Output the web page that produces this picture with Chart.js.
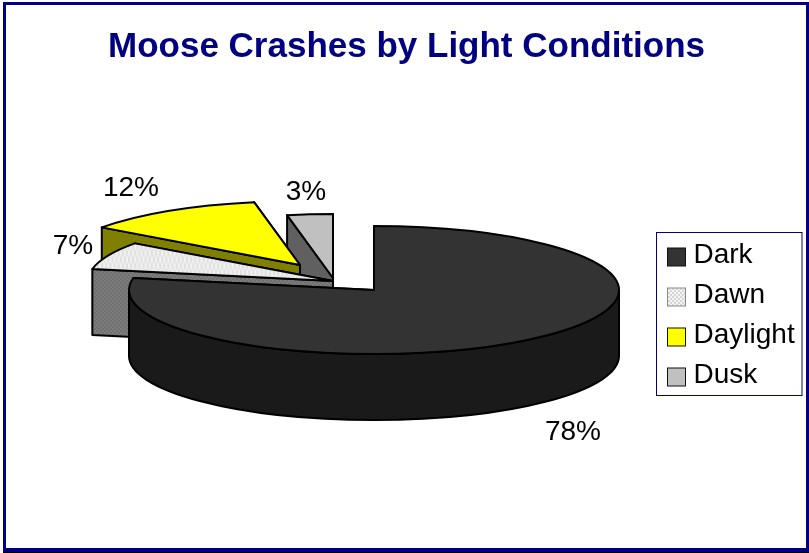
<!DOCTYPE html>
<html>
<head>
<meta charset="utf-8">
<style>html,body{margin:0;padding:0;background:#fff}canvas{display:block}</style>
<script src="https://cdn.jsdelivr.net/npm/chart.js@4/dist/chart.umd.min.js"></script>
</head>
<body>
<canvas id="c" width="809" height="553"></canvas>
<script>
const titleText = 'Moose Crashes by Light Conditions';
const categories = ['Dark', 'Dawn', 'Daylight', 'Dusk'];
const values = [78, 7, 12, 3];
const topColors = ['#333333', null, '#ffff00', '#c0c0c0'];
const wallColors = ['#1a1a1a', null, '#808000', '#606060'];

const FONT = '"Liberation Sans", Arial, sans-serif';
const RX = 245, RY = 64, DEPTH = 66;
const SQUASH = RY / RX;
// where each slice's point sits after the explosion, and where its label goes
const TIPS = [[374, 290], [333, 281], [300, 265], [333, 278]];
const LABEL_SPOTS = [[573, 432], [73, 246], [131, 188], [306, 192]];

function dither(a, b, cell) {
  const p = document.createElement('canvas');
  p.width = p.height = cell * 2;
  const g = p.getContext('2d');
  g.fillStyle = a; g.fillRect(0, 0, cell * 2, cell * 2);
  g.fillStyle = b; g.fillRect(0, 0, cell, cell); g.fillRect(cell, cell, cell, cell);
  return g.createPattern(p, 'repeat');
}
const dawnTop = dither('#f2f2f2', '#e0e0e0', 2);
const dawnWall = dither('#707070', '#7c7c7c', 2);
const dawnSwatch = dither('#f4f4f4', '#d6d6d6', 2);
const fills = topColors.slice(); fills[1] = dawnTop;
const walls = wallColors.slice(); walls[1] = dawnWall;

function rimPoint(tip, a) { return [tip[0] + RX * Math.cos(a), tip[1] + RY * Math.sin(a)]; }

function drawCut(ctx, tip, a, color) {
  const r = rimPoint(tip, a);
  ctx.beginPath();
  ctx.moveTo(tip[0], tip[1]); ctx.lineTo(r[0], r[1]);
  ctx.lineTo(r[0], r[1] + DEPTH); ctx.lineTo(tip[0], tip[1] + DEPTH); ctx.closePath();
  ctx.fillStyle = color; ctx.fill(); ctx.stroke();
}
function drawRim(ctx, tip, a0, a1, color) {
  const lo = Math.max(a0, 0), hi = Math.min(a1, Math.PI);
  if (lo >= hi) return;
  ctx.beginPath();
  ctx.ellipse(tip[0], tip[1], RX, RY, 0, lo, hi);
  ctx.ellipse(tip[0], tip[1] + DEPTH, RX, RY, 0, hi, lo, true);
  ctx.closePath();
  ctx.fillStyle = color; ctx.fill(); ctx.stroke();
}

const pie3d = {
  id: 'pie3d',
  afterLayout(chart) {
    const lg = chart.legend;
    lg.left = 655.5; lg.top = 229; lg.width = 148; lg.height = 320;
    lg.right = lg.left + lg.width; lg.bottom = lg.top + lg.height;
    lg.adjustHitBoxes();
    chart.titleBlock.left += 2; chart.titleBlock.right += 2;
  },
  beforeDatasetsDraw(chart) {
    const ctx = chart.ctx;
    const arcs = chart.getDatasetMeta(0).data;
    ctx.save();
    ctx.lineWidth = 2; ctx.strokeStyle = '#000'; ctx.lineJoin = 'round';
    for (let i = arcs.length - 1; i >= 0; i--) {
      const arc = arcs[i], tip = TIPS[i];
      const a0 = arc.startAngle, a1 = arc.endAngle;
      const first = Math.sin(a0) > Math.sin(a1) ? a1 : a0;
      const second = first === a0 ? a1 : a0;
      drawCut(ctx, tip, first, walls[i]);
      drawCut(ctx, tip, second, walls[i]);
      drawRim(ctx, tip, a0, a1, walls[i]);
      // the library's own arc, squashed into the tilted plane of the pie
      const k = RX / arc.outerRadius;
      ctx.save();
      ctx.translate(tip[0], tip[1]);
      ctx.scale(k, k * SQUASH);
      ctx.translate(-arc.x, -arc.y);
      arc.draw(ctx);
      ctx.restore();
      ctx.beginPath();
      ctx.moveTo(tip[0], tip[1]);
      ctx.ellipse(tip[0], tip[1], RX, RY, 0, a0, a1);
      ctx.closePath();
      ctx.stroke();
    }
    ctx.restore();
    return false;
  },
  afterDraw(chart) {
    const ctx = chart.ctx, lg = chart.legend;
    ctx.save();
    // legend frame
    ctx.strokeStyle = '#000080'; ctx.lineWidth = 1;
    ctx.strokeRect(656.5, 232.5, 145.5, 163);
    // legend swatches
    lg.legendItems.forEach((it, i) => {
      const hb = lg.legendHitBoxes[i];
      const x = 667.5, y = hb.top + hb.height / 2 - 7;
      ctx.fillStyle = i === 1 ? dawnSwatch : topColors[i];
      ctx.fillRect(x, y, 18, 18);
      ctx.strokeStyle = i === 1 ? '#8a8a8a' : '#111';
      ctx.lineWidth = 1;
      ctx.strokeRect(x, y, 18, 18);
    });
    // percentage labels
    ctx.fillStyle = '#000'; ctx.font = '28px ' + FONT;
    ctx.textAlign = 'center'; ctx.textBaseline = 'middle';
    values.forEach((v, i) => ctx.fillText(v + '%', LABEL_SPOTS[i][0], LABEL_SPOTS[i][1]));
    // outer frame
    ctx.fillStyle = '#000080';
    ctx.fillRect(3, 2, 806, 3);
    ctx.fillRect(3, 2, 3, 550);
    ctx.fillRect(806, 2, 3, 550);
    ctx.fillRect(3, 548, 806, 4);
    ctx.fillStyle = '#000';
    ctx.fillRect(3, 552, 806, 1);
    ctx.restore();
  }
};

new Chart(document.getElementById('c'), {
  type: 'pie',
  data: { labels: categories, datasets: [{ data: values, backgroundColor: fills, borderWidth: 0 }] },
  plugins: [pie3d],
  options: {
    responsive: false,
    animation: false,
    layout: { padding: 0 },
    plugins: {
      tooltip: { enabled: false },
      title: {
        display: true, text: titleText, color: '#000080',
        font: { family: FONT, size: 35, weight: 'bold', lineHeight: 1.2 },
        padding: { top: 26, bottom: 12 }
      },
      legend: {
        position: 'right',
        align: 'start',
        labels: {
          color: '#000', boxWidth: 12, boxHeight: 12, padding: 12,
          font: { family: FONT, size: 28 }
        }
      }
    }
  }
});
</script>
</body>
</html>
